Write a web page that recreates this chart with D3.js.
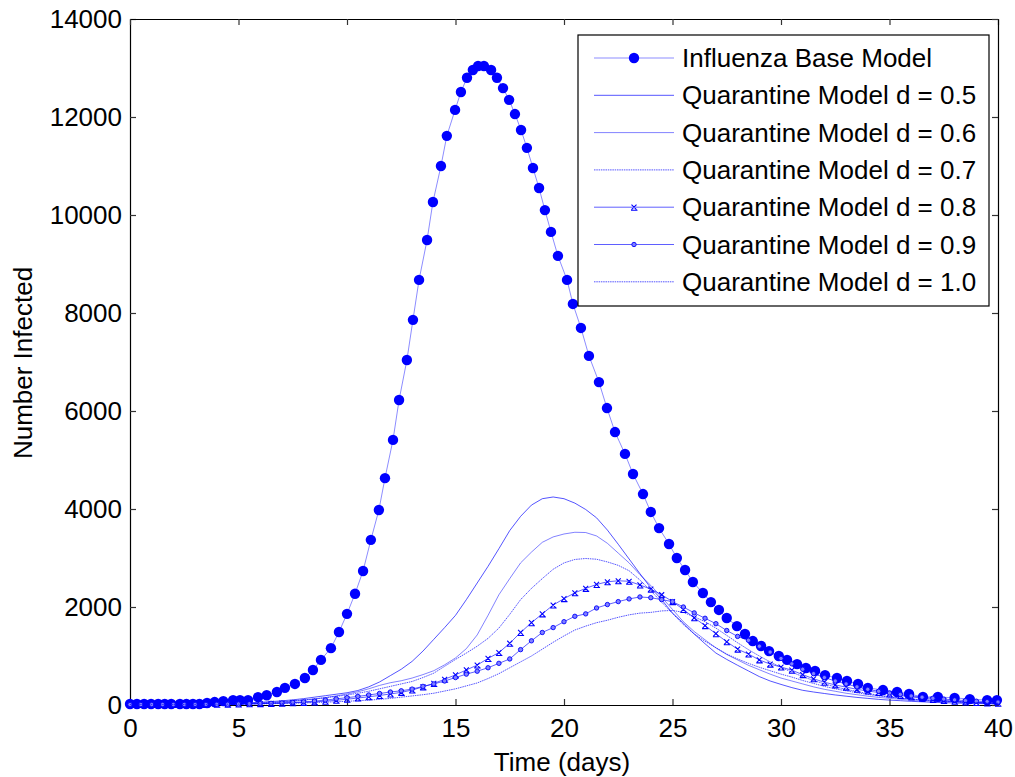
<!DOCTYPE html>
<html>
<head>
<meta charset="utf-8">
<script src="https://cdn.jsdelivr.net/npm/d3@7"></script>
<style>
  body { margin: 0; background: #fff; }
  svg { display: block; font-family: "Liberation Sans", Arial, sans-serif; }
</style>
</head>
<body>
<svg id="chart" width="1015" height="777"></svg>
<script>
// base model (adaptive solver steps)
const baseDays = [0,0.32,0.65,0.97,1.3,1.6,1.9,2.3,2.6,2.9,
  3.2,3.55,3.9,4.3,4.75,5.07,5.44,5.9,6.3,6.77,
  7.14,7.6,8.06,8.43,8.8,9.26,9.63,10.0,10.37,10.74,
  11.1,11.47,11.75,12.12,12.4,12.76,13.04,13.32,13.69,13.96,
  14.33,14.6,14.98,15.25,15.53,15.8,16.04,16.31,16.64,16.91,
  17.19,17.47,17.74,18.02,18.29,18.57,18.85,19.12,19.4,19.72,
  20.14,20.41,20.78,21.15,21.61,21.98,22.35,22.81,23.18,23.64,
  24.0,24.38,24.84,25.2,25.58,25.94,26.4,26.77,27.14,27.5,
  27.97,28.34,28.7,29.08,29.45,29.9,30.28,30.74,31.15,31.57,
  32.03,32.58,33.04,33.55,34.0,34.7,35.35,35.9,36.54,37.23,
  38.0,38.7,39.5,39.95]
const baseInfected = [20,20,20,20,20,20,20,20,20,20,
  20,40,60,80,100,100,100,160,200,265,
  350,430,550,715,920,1160,1490,1860,2270,2735,
  3370,3980,4630,5410,6225,7040,7860,8675,9490,10265,
  11000,11615,12145,12510,12800,12960,13040,13040,12960,12800,
  12590,12350,12060,11735,11370,10960,10550,10100,9655,9165,
  8675,8185,7695,7125,6590,6060,5570,5125,4715,4305,
  3940,3610,3285,3000,2755,2510,2285,2100,1940,1775,
  1610,1450,1305,1205,1100,1000,920,835,755,695,
  610,550,490,430,350,305,265,225,165,165,
  145,120,100,100]

// quarantine models, every half day
const qDays = [0,0.5,1,1.5,2,2.5,3,3.5,4,4.5,
  5,5.5,6,6.5,7,7.5,8,8.5,9,9.5,
  10,10.5,11,11.5,12,12.5,13,13.5,14,14.5,
  15,15.5,16,16.5,17,17.5,18,18.5,19,19.5,
  20,20.5,21,21.5,22,22.5,23,23.5,24,24.5,
  25,25.5,26,26.5,27,27.5,28,28.5,29,29.5,
  30,30.5,31,31.5,32,32.5,33,33.5,34,34.5,
  35,35.5,36,36.5,37,37.5,38,38.5,39,39.5,40]
const q05 = [10,10,10,10,12,14,16,18,22,28,
  35,45,55,70,85,105,130,160,190,220,
  250,295,370,470,600,730,890,1100,1340,1580,
  1830,2150,2490,2830,3190,3560,3850,4080,4210,4245,
  4210,4120,3990,3820,3570,3280,2980,2680,2390,2150,
  1875,1670,1450,1250,1060,930,810,695,580,490,
  420,355,300,265,235,205,180,155,135,115,
  100,88,75,65,55,48,40,35,30,25,20]
const q06 = [10,10,10,10,11,12,14,16,19,23,
  28,35,43,52,62,78,98,122,150,185,
  225,270,330,400,455,495,550,620,700,820,
  960,1150,1430,1830,2250,2580,2900,3120,3320,3430,
  3490,3525,3520,3450,3300,3100,2900,2660,2440,2200,
  1950,1700,1500,1330,1165,1030,920,810,720,630,
  550,490,430,370,320,280,240,210,180,155,
  135,117,100,88,78,68,60,52,45,38,32]
const q07 = [10,10,10,10,11,12,13,15,17,20,
  24,30,38,50,65,85,105,125,150,175,
  205,240,280,330,380,430,480,560,650,790,
  930,1060,1200,1360,1570,1850,2150,2380,2580,2770,
  2900,2970,2990,2975,2920,2850,2740,2550,2330,2100,
  1870,1640,1450,1300,1170,1040,940,850,770,700,
  630,570,500,440,380,330,290,250,215,185,
  160,140,120,105,90,78,68,58,50,43,37]
const q08 = [10,10,10,10,10,11,12,13,15,17,
  20,24,28,33,39,46,54,64,78,96,
  118,142,168,195,225,258,305,370,440,525,
  615,715,815,950,1070,1260,1480,1680,1860,2040,
  2170,2290,2380,2460,2515,2535,2525,2450,2365,2250,
  2110,1950,1780,1620,1455,1290,1140,1040,920,835,
  775,710,620,535,465,410,365,320,285,255,
  225,195,165,140,115,95,78,64,50,42,36]
const q09 = [10,10,10,10,10,11,12,13,14,16,
  19,23,28,34,42,52,64,80,100,125,
  150,175,205,235,265,290,325,380,430,490,
  560,630,690,760,850,940,1130,1310,1480,1580,
  1700,1810,1860,1980,2050,2110,2165,2205,2190,2150,
  2110,2000,1880,1770,1660,1520,1400,1320,1200,1080,
  950,840,730,640,560,490,430,370,320,280,
  245,215,185,160,138,120,104,90,78,68,60]
const q10 = [10,10,10,10,10,10,11,12,13,15,
  17,20,23,27,31,36,42,50,58,66,
  75,88,100,115,135,160,185,210,240,285,
  330,390,450,540,640,760,880,1000,1140,1280,
  1410,1530,1610,1680,1730,1790,1840,1875,1890,1920,
  1930,1890,1800,1700,1570,1420,1270,1130,1000,880,
  770,670,580,500,430,370,320,275,235,200,
  170,145,125,105,90,78,67,57,49,42,36]

const seriesNames = ['Influenza Base Model','Quarantine Model d = 0.5','Quarantine Model d = 0.6',
  'Quarantine Model d = 0.7','Quarantine Model d = 0.8','Quarantine Model d = 0.9','Quarantine Model d = 1.0']
const xTicks = [0,5,10,15,20,25,30,35,40]
const yTicks = [0,2000,4000,6000,8000,10000,12000,14000]

const svg = d3.select('#chart')
const x = d3.scaleLinear().domain([0,40]).range([130,998])
const y = d3.scaleLinear().domain([0,14000]).range([705,19])
const blue = '#0000ff'
const fontSize = 26

const series = [
  {name: seriesNames[0], days: baseDays, vals: baseInfected, line: {stroke: blue, op: 0.45, w: 1}, marker: 'big'},
  {name: seriesNames[1], days: qDays, vals: q05, line: {stroke: blue, op: 0.75, w: 0.9}},
  {name: seriesNames[2], days: qDays, vals: q06, line: {stroke: blue, op: 0.55, w: 0.9}},
  {name: seriesNames[3], days: qDays, vals: q07, line: {stroke: blue, op: 0.75, w: 0.9, dash: '1.5,0.8'}},
  {name: seriesNames[4], days: qDays, vals: q08, line: {stroke: blue, op: 0.7, w: 0.9}, marker: 'x'},
  {name: seriesNames[5], days: qDays, vals: q09, line: {stroke: blue, op: 0.7, w: 0.9}, marker: 'o'},
  {name: seriesNames[6], days: qDays, vals: q10, line: {stroke: blue, op: 0.75, w: 0.9, dash: '1.5,0.8'}}
]

// axes with inward ticks, matlab style
svg.append('g').attr('transform', 'translate(0,705)')
  .call(d3.axisBottom(x).tickValues(xTicks).tickSize(-6).tickSizeOuter(0).tickPadding(14))
svg.append('g').attr('transform', 'translate(130,0)')
  .call(d3.axisLeft(y).tickValues(yTicks).tickFormat(d3.format('d')).tickSize(-6).tickSizeOuter(0).tickPadding(8))
svg.append('g').attr('transform', 'translate(0,19)')
  .call(d3.axisTop(x).tickValues(xTicks).tickFormat('').tickSize(-6).tickSizeOuter(0))
svg.append('g').attr('transform', 'translate(998,0)')
  .call(d3.axisRight(y).tickValues(yTicks).tickFormat('').tickSize(-6).tickSizeOuter(0))
svg.selectAll('.domain').attr('stroke', '#000').attr('stroke-width', 1.2)
svg.selectAll('.tick line').attr('stroke', '#333').attr('stroke-width', 1.2)
svg.selectAll('.tick text').attr('font-size', fontSize).attr('fill', '#000')
  .attr('font-family', '"Liberation Sans", Arial, sans-serif')

svg.append('text').attr('x', 562).attr('y', 771).attr('text-anchor', 'middle')
  .attr('font-size', fontSize).text('Time (days)')
svg.append('text').attr('transform', 'translate(32,363) rotate(-90)').attr('text-anchor', 'middle')
  .attr('font-size', fontSize).text('Number Infected')

function drawMarker(g, kind, cx, cy) {
  if (kind === 'big') {
    g.append('circle').attr('cx', cx).attr('cy', cy).attr('r', 5.2).attr('fill', blue)
  } else if (kind === 'x') {
    g.append('path')
      .attr('d', `M${cx-2.5},${cy-2.5}L${cx+2.5},${cy+2.5}M${cx-2.5},${cy+2.5}L${cx+2.5},${cy-2.5}M${cx-3},${cy+3}H${cx+3.5}`)
      .attr('stroke', blue).attr('stroke-width', 1.1).attr('fill', 'none')
  } else if (kind === 'o') {
    g.append('circle').attr('cx', cx).attr('cy', cy).attr('r', 2.2)
      .attr('fill', '#8080ff').attr('stroke', blue).attr('stroke-width', 0.9)
  }
}

const line = d3.line()
const plot = svg.append('g').attr('class', 'plot')
series.forEach(s => {
  const pts = s.days.map((d, i) => [x(d), y(s.vals[i])])
  const g = plot.append('g')
  g.append('path').attr('d', line(pts)).attr('fill', 'none')
    .attr('stroke', s.line.stroke).attr('stroke-opacity', s.line.op)
    .attr('stroke-width', s.line.w).attr('stroke-dasharray', s.line.dash || null)
  if (s.marker) pts.forEach(p => drawMarker(g, s.marker, p[0], p[1]))
})

// legend
const lg = svg.append('g').attr('class', 'legend')
lg.append('rect').attr('x', 578).attr('y', 35).attr('width', 411).attr('height', 271)
  .attr('fill', '#fff').attr('stroke', '#000').attr('stroke-width', 1.2)
series.forEach((s, i) => {
  const cy = 58 + i * 37.3
  lg.append('line').attr('x1', 594).attr('x2', 674).attr('y1', cy).attr('y2', cy)
    .attr('stroke', s.line.stroke).attr('stroke-opacity', s.line.op)
    .attr('stroke-width', s.line.w).attr('stroke-dasharray', s.line.dash || null)
  if (s.marker) drawMarker(lg, s.marker, 634, cy)
  lg.append('text').attr('x', 682).attr('y', cy).attr('dy', '0.35em')
    .attr('font-size', fontSize).text(s.name)
})
</script>
</body>
</html>
